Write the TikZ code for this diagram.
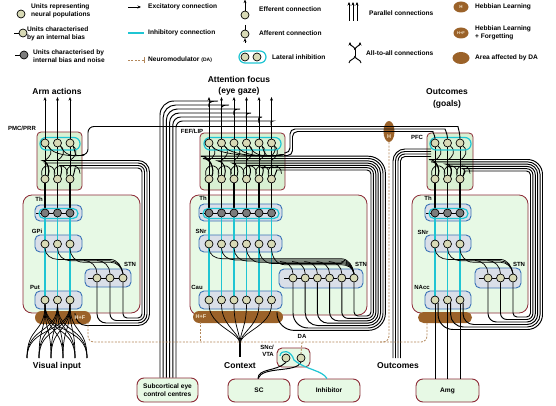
\documentclass[tikz,border=0pt]{standalone}
\usepackage{fontspec}
\setmainfont{Liberation Sans}
\usetikzlibrary{arrows.meta,calc,shapes.geometric,fit}
\definecolor{unitfill}{HTML}{D8DAB6}
\definecolor{ctxfill}{HTML}{D9F1D3}
\definecolor{bgfill}{HTML}{E7F9E5}
\definecolor{boxred}{HTML}{8C2A36}
\definecolor{nucfill}{HTML}{DADFE8}
\definecolor{nucblue}{HTML}{3A72B6}
\definecolor{brownda}{HTML}{9B6229}
\definecolor{inhcyan}{HTML}{1FC5D3}
\definecolor{dashbrown}{HTML}{B3875A}
\definecolor{noisegray}{HTML}{7C7C7C}
\definecolor{cream}{HTML}{F3E6CC}
\pgfdeclarelayer{back}
\pgfdeclarelayer{mid}
\pgfsetlayers{back,mid,main}
\tikzset{
 unit/.style={circle, draw=black, fill=unitfill, line width=0.7pt, minimum size=8pt, inner sep=0pt},
 dunit/.style={unit, fill=noisegray},
 nuc/.style={draw=nucblue, fill=nucfill, line width=0.9pt, rounded corners=5pt, inner sep=0pt},
 ctx/.style={draw=boxred, fill=ctxfill, line width=0.8pt, rounded corners=4pt, inner sep=0pt},
 bgbox/.style={draw=boxred, fill=bgfill, line width=0.8pt, rounded corners=9pt, inner sep=0pt},
 outbox/.style={draw=boxred, fill=bgfill, line width=0.9pt, rounded corners=7pt, inner sep=0pt},
 conn/.style={draw=black, line width=0.95pt},
 fine/.style={draw=black, line width=0.7pt},
 thal/.style={draw=black, line width=1.5pt},
 inh/.style={draw=inhcyan, line width=1.2pt},
 dam/.style={draw=dashbrown, line width=0.8pt, dash pattern=on 2pt off 1.4pt},
 blob/.style={fill=brownda, draw=none, inner sep=0pt},
 lbl/.style={font=\fontsize{6}{7}\selectfont\bfseries, inner sep=0pt},
 big/.style={font=\fontsize{8.5}{11.5}\selectfont\bfseries, inner sep=0pt, align=center},
 leg/.style={font=\fontsize{6.6}{8.4}\selectfont\bfseries, inner sep=0pt, align=left, anchor=west},
 boxtxt/.style={font=\fontsize{6.6}{8.2}\selectfont\bfseries, inner sep=0pt, align=center},
 blobtxt/.style={font=\fontsize{5.5}{6}\selectfont\bfseries, text=cream, inner sep=0pt},
 tip/.style={-{Stealth[length=3.5pt,width=3pt]}},
}
\begin{document}
\begin{tikzpicture}[x=1pt,y=-1pt]
\useasboundingbox (0,0) rectangle (556,406);
\begin{pgfonlayer}{back}
\fill[white] (0,0) rectangle (556,406);
\node[bgbox, fit={(23,195) (140,313)}] (Abg) {};
\node[bgbox, fit={(190,195) (367,315)}] (Bbg) {};
\node[bgbox, fit={(412,195) (528,313)}] (Cbg) {};
\node[ctx, fit={(37,132) (82,190)}] (Actx) {};
\node[ctx, fit={(200,133) (285,190)}] (Bctx) {};
\node[ctx, fit={(427,133) (473,190)}] (Cctx) {};
\node[nuc, fit={(35,205) (82,221)}] (Athb) {};
\node[nuc, fit={(35,235) (82,252)}] (Agpb) {};
\node[nuc, fit={(85,269) (131,287)}] (Astnb) {};
\node[nuc, fit={(35,291) (82,309)}] (Aputb) {};
\node[nuc, fit={(199,204) (282,221)}] (Bthb) {};
\node[nuc, fit={(199,235) (282,252)}] (Bsnb) {};
\node[nuc, fit={(279,269) (363,288)}] (Bstnb) {};
\node[nuc, fit={(199,291) (282,309)}] (Bcaub) {};
\node[nuc, fit={(425,204) (471,221)}] (Cthb) {};
\node[nuc, fit={(425,235) (471,252)}] (Csnb) {};
\node[nuc, fit={(475,268) (521,288)}] (Cstnb) {};
\node[nuc, fit={(425,291) (471,309)}] (Cnab) {};
\node[outbox, fit={(137,378) (198,402)}] (sub) {};
\node[outbox, fit={(228,379) (290,402)}] (SC) {};
\node[outbox, fit={(298,379) (360,402)}] (Inh) {};
\node[outbox, rounded corners=5pt, fit={(277,348) (310,367)}] (SNc) {};
\node[outbox, fit={(416,379) (479,402)}] (Amg) {};
\node[blob, rounded corners=6.5pt, fit={(35,311) (91,324)}] (Ahf) {};
\node[blob, rounded corners=6pt, fit={(193,311) (283,323)}] (Bhf) {};
\node[blob, rounded corners=5.5pt, fit={(418,312) (472,323)}] (Chf) {};
\node[blob, ellipse, minimum width=11pt, minimum height=21pt] (Hb) at (389,131.5) {};
\end{pgfonlayer}

% ===== units =====
\foreach \i/\x in {1/45,2/57.5,3/70} {
  \node[unit] (At\i) at (\x,143) {};
  \node[unit] (Ab\i) at (\x,179) {};
  \node[dunit] (Ah\i) at (\x,213) {};
  \node[unit] (Ag\i) at (\x,244) {};
  \node[unit] (Ap\i) at (\x,300) {};
}
\foreach \i/\x in {1/97,2/110,3/123} \node[unit] (As\i) at (\x,278) {};
\foreach \i/\x in {1/209,2/221.5,3/234,4/246.5,5/259,6/271.5} {
  \node[unit] (Bt\i) at (\x,143) {};
  \node[unit] (Bb\i) at (\x,179) {};
  \node[dunit] (Bh\i) at (\x,213) {};
  \node[unit] (Bg\i) at (\x,244) {};
  \node[unit] (Bp\i) at (\x,300) {};
}
\foreach \i/\x in {1/293,2/305.2,3/317.4,4/329.6,5/341.8,6/354} \node[unit] (Bs\i) at (\x,278) {};
\foreach \i/\x in {1/435,2/447.5,3/460} {
  \node[unit] (Ct\i) at (\x,143) {};
  \node[unit] (Cb\i) at (\x,179) {};
  \node[dunit] (Ch\i) at (\x,213) {};
  \node[unit] (Cg\i) at (\x,244) {};
  \node[unit] (Cp\i) at (\x,300) {};
}
\foreach \i/\x in {1/488,2/500.5,3/513} \node[unit] (Cs\i) at (\x,278) {};
\node[unit] (S1) at (286,358) {};
\node[unit] (S2) at (301,358) {};

\coordinate (Ain) at (84,155);
\coordinate (Bin) at (284,154.5);
\coordinate (Apin) at (75,313);
\coordinate (Bpin) at (277,312);
\coordinate (ctxj) at (240,344);
\coordinate (ctxe) at (240,357);

\begin{pgfonlayer}{mid}
% generic column wiring
\foreach \col/\nn in {A/3,B/6,C/3} {
  \foreach \i in {1,...,\nn} {
    \draw[conn] (\col b\i.north) -- (\col t\i.south);
    \draw[thal] (\col h\i.north) -- (\col b\i.south);
    \draw[inh] (\col h\i.south) -- (\col p\i.north);
    \draw[fine] (\col h\i.west) -- ++(-4.5,0);
    \draw[fine] (\col s\i.west) -- ++(-4.5,0);
    \draw[fine] (\col b\i.north west) .. controls +(-3,-13) and +(0,-11) .. ($(\col b\i.north)+(10,-1)$);
    \draw[fine] (\col t\i.south east) .. controls +(6,5) and +(5,-3) .. ($(\col t\i.south)+(0,13)$);
  }
}
% GPi/SNr <-> STN all-to-all drawn as a bus
\foreach \i/\x in {1/45,2/57.5,3/70} {
  \pgfmathsetmacro\yy{258+1.4*\i}
  \draw[fine] (Ag\i.south) to[out=-90,in=180] (\x+13,\yy) -- (110,\yy) to[out=0,in=100] (As3.north);
}
\foreach \j/\x in {1/97,2/110} \draw[fine] (\x-13,260.5) to[out=0,in=90] (As\j.north);
\foreach \i/\x in {1/209,2/221.5,3/234,4/246.5,5/259,6/271.5} {
  \pgfmathsetmacro\yy{257.5+1.2*\i}
  \draw[fine] (Bg\i.south) to[out=-90,in=180] (\x+13,\yy) -- (341,\yy) to[out=0,in=100] (Bs6.north);
}
\foreach \j/\x in {1/293,2/305.2,3/317.4,4/329.6,5/341.8} \draw[fine] (\x-13,261.5) to[out=0,in=90] (Bs\j.north);
\foreach \i/\x in {1/435,2/447.5,3/460} {
  \pgfmathsetmacro\yy{258+1.4*\i}
  \draw[fine] (Cg\i.south) to[out=-90,in=180] (\x+13,\yy) -- (500,\yy) to[out=0,in=100] (Cs3.north);
}
\foreach \j/\x in {1/488,2/500.5} \draw[fine] (\x-13,260.5) to[out=0,in=90] (Cs\j.north);
% lateral inhibition loops
\draw[inh, rounded corners=6pt] (40,137.5) rectangle (80,150);
\draw[inh, rounded corners=6pt] (204,137.5) rectangle (281,150);
\draw[inh, rounded corners=6pt] (430,137.5) rectangle (471,150);
\draw[inh, rounded corners=5pt] (39,208.5) rectangle (78,218.5);
\draw[inh, rounded corners=5pt] (203,208.5) rectangle (279,218.5);
\draw[inh, rounded corners=5pt] (429,208.5) rectangle (468,218.5);
% outputs up
\foreach \i in {1,2,3} \draw[conn,tip] (At\i.north) -- ++(0,-41.5);
\foreach \i in {1,...,6} \draw[conn,tip] (Bt\i.north) -- ++(0,-41.5);
% FEF -> subcortical bundle
\foreach \i/\x in {1/209,2/221.5,3/234,4/246.5,5/259,6/271.5} {
  \pgfmathsetmacro\yb{101+4*(\i-1)}
  \pgfmathsetmacro\xv{160+3.2*(\i-1)}
  \pgfmathsetmacro\R{14-1.5*(\i-1)}
  \draw[conn, rounded corners=\R pt] (\x,\yb+6) to[out=90,in=0] (\x-5,\yb) -- (\xv,\yb) -- (\xv,0 |- sub.north);
}
% bundle A: cortex -> STN / Put
\foreach \k/\s/\sx/\e in {0/Ab3/70/As3.south, 1/Ab2/57.5/As2.south, 2/Ab1/45/As1.south, 3/Ab1/45/Apin} {
  \pgfmathsetmacro\yt{168-2.5*\k}
  \pgfmathsetmacro\xv{142+2.5*\k}
  \pgfmathsetmacro\yb{318+2.5*\k}
  \pgfmathsetmacro\R{4+2.5*\k}
  \draw[conn, rounded corners=\R pt] (\s.north east) to[out=70,in=180] (\sx+9,\yt) -- (\xv,\yt) -- (\xv,\yb) -- (\e |- 0,\yb) -- (\e);
}
% bundle B
\foreach \k/\s/\sx/\e in {0/Bb6/271.5/Bs6.south, 1/Bb5/259/Bs5.south, 2/Bb4/246.5/Bs4.south, 3/Bb3/234/Bs3.south, 4/Bb2/221.5/Bs2.south, 5/Bb1/209/Bs1.south, 6/Bb1/209/Bpin} {
  \pgfmathsetmacro\yt{170-2.3*\k}
  \pgfmathsetmacro\xv{371+2.4*\k}
  \pgfmathsetmacro\yb{316+2.4*\k}
  \pgfmathsetmacro\R{4+2.2*\k}
  \draw[conn, rounded corners=\R pt] (\s.north east) to[out=70,in=180] (\sx+9,\yt) -- (\xv,\yt) -- (\xv,\yb) -- (\e |- 0,\yb) -- (\e);
}
% bundle C
\foreach \k/\s/\sx/\e in {0/Cb3/460/Cs3.south, 1/Cb3/460/Cs2.south, 2/Cb2/447.5/Cs1.south, 3/Cb2/447.5/Cp3.south east, 4/Cb1/435/Cp2.south east, 5/Cb1/435/Cp1.south east} {
  \pgfmathsetmacro\yt{171-2.3*\k}
  \pgfmathsetmacro\xv{530.5+2.4*\k}
  \pgfmathsetmacro\yb{317+2.5*\k}
  \pgfmathsetmacro\R{4+2.2*\k}
  \draw[conn, rounded corners=\R pt] (\s.north east) to[out=70,in=180] (\sx+9,\yt) -- (\xv,\yt) -- (\xv,\yb) -- (\e |- 0,\yb) -- (\e);
}
% PFC -> PMC and FEF (Hebbian)
\draw[conn, rounded corners=6pt] (Ct3.north) to[out=90,in=0] (452,126.5) -- (88,126.5) -- (88,155) -- (Ain);
\draw[conn, rounded corners=5pt] (Ct2.north) to[out=90,in=0] (440,129) -- (290,129) -- (290,153) -- (284,153);
\draw[conn, rounded corners=5pt] (Ct1.north) to[out=90,in=0] (428,131.5) -- (292.5,131.5) -- (292.5,155.5) -- (284,155.5);
\foreach \i in {1,2,3} \draw[fine] (Ain) .. controls (72,157) and ($(At\i)+(7,12)$) .. (At\i.south east);
\foreach \i in {1,...,6} \draw[fine] (Bin) .. controls (262,158) and ($(Bt\i)+(7,12)$) .. (Bt\i.south east);
% Outcomes -> PFC
\foreach \k in {0,1,2,3} {
  \pgfmathsetmacro\xv{393+2.5*\k}
  \pgfmathsetmacro\yt{149+2.5*\k}
  \pgfmathsetmacro\R{12-2.5*\k}
  \draw[conn, rounded corners=\R pt] (\xv,358) -- (\xv,\yt) -- (431,\yt);
}
% Put -> visual input fan
\foreach \i/\x in {1/45,2/57.5,3/70}
  \foreach \e in {27,39,51,63,75,87}
    \draw[fine] (Ap\i.south) .. controls (\x,334) and (\e,326) .. (\e,358);
% Cau -> context
\foreach \i in {1,...,6} \draw[fine] (Bp\i.south) .. controls +(0,22) and +(0,-12) .. (ctxj);
\draw[conn, line width=1.6pt] (ctxj) -- (ctxe);
% NAcc -> Amg
\foreach \i in {1,2,3} \draw[conn] (Cp\i.south) -- (Cp\i.south |- Amg.north);
% SNc / VTA
\draw[conn] ($(SC.north)+(-1,0)$) .. controls (258,368) and (276,372) .. (S1.south);
\draw[conn] ($(SC.north)+(-1,0)$) .. controls (262,366) and (296,373) .. (S2.south);
\draw[inh] ($(Inh.north)+(-2,0)$) .. controls (322,370) and (306,370) .. (294,360) .. controls (291,350) and (281,349) .. (280,356);
% dopamine
\draw[dam, rounded corners=6pt] (88,322) -- (88,342) -- (427,342) -- (427,322);
\draw[dam] (200,322) -- (200,342);
\draw[dam, rounded corners=6pt] (Hb.south) -- (389,342) -- (380,342);
\draw[dam] (302,342) -- (S2.north);
\end{pgfonlayer}

% ===== labels =====
\node[big] (armlbl) at (57,91) {Arm actions};
\node[big] (attlbl) at (239,86) {Attention focus\\(eye gaze)};
\node[big] (goallbl) at (447,98.5) {Outcomes\\(goals)};
\node[big] (vislbl) at (57,366) {Visual input};
\node[big] (ctxlbl) at (240,366) {Context};
\node[big] (outlbl) at (398,366) {Outcomes};
\node[lbl] (pmclbl) at (22,128) {PMC/PRR};
\node[lbl] (feflbl) at (192,131) {FEF/LIP};
\node[lbl] (pfclbl) at (417,137) {PFC};
\node[lbl] (Athl) at (39,199) {Th};
\node[lbl] (Bthl) at (203,198.5) {Th};
\node[lbl] (Cthl) at (428,198.5) {Th};
\node[lbl] (Agpl) at (37,231) {GPi};
\node[lbl] (Bsnl) at (201,231) {SNr};
\node[lbl] (Csnl) at (423,232) {SNr};
\node[lbl] (Aputl) at (35,287) {Put};
\node[lbl] (Bcaul) at (197,287) {Cau};
\node[lbl] (Cnal) at (422,287) {NAcc};
\node[lbl] (Astnl) at (130,264.5) {STN};
\node[lbl] (Bstnl) at (361,264.5) {STN};
\node[lbl] (Cstnl) at (519,264) {STN};
\node[blobtxt] (Ahft) at (80,317.5) {H+F};
\node[blobtxt] (Bhft) at (201,317) {H+F};
\node[blobtxt] (Ht) at (389,137) {H};
\node[lbl] (dalbl) at (302,336) {DA};
\node[lbl, align=right, anchor=east] (snclbl) at (274,351) {SNc/\\VTA};
\node[boxtxt] (subt) at (sub) {Subcortical eye\\control centres};
\node[boxtxt] (SCt) at (SC) {SC};
\node[boxtxt] (Inht) at (Inh) {Inhibitor};
\node[boxtxt] (Amgt) at (Amg) {Amg};

% ===== legend =====
\node[unit] (lg1) at (21,14) {};
\node[leg] (lg1t) at (31,10.8) {Units representing\\neural populations};
\node[unit] (lg2) at (23,33) {};
\draw[fine] (lg2.west) -- ++(-5,0);
\node[leg] (lg2t) at (27,33.5) {Units characterised\\by an internal bias};
\node[dunit] (lg3) at (24,55) {};
\draw[fine] (lg3.west) -- ++(-5,0);
\node[leg] (lg3t) at (33,56) {Units characterised by\\internal bias and noise};
\coordinate (le1a) at (128,7); \coordinate (le1b) at (141,7);
\draw[conn,tip] (le1a) -- (le1b);
\node[leg] (lexc) at (148,7) {Excitatory connection};
\coordinate (le2a) at (128,33); \coordinate (le2b) at (144,33);
\draw[inh] (le2a) -- (le2b);
\node[leg] (linh) at (148,33) {Inhibitory connection};
\coordinate (le3a) at (128,60); \coordinate (le3b) at (144.5,60);
\draw[dam] (le3a) -- (le3b);
\draw[dashbrown, line width=0.8pt] (144.5,57) -- (144.5,63);
\node[leg] (lnm) at (148,60) {Neuromodulator {\fontsize{5}{6}\selectfont (DA)}};
\node[unit] (lef) at (245,15) {};
\draw[conn,tip] (lef.north) -- ++(0,-11);
\node[leg] (left) at (259,9) {Efferent connection};
\node[unit] (laf) at (245,34) {};
\draw[conn] (245,25) -- (laf.north);
\draw[conn,tip] (245,43) -- (laf.south);
\node[leg] (laft) at (259,33) {Afferent connection};
\node[unit] (lli1) at (245,57) {};
\node[unit] (lli2) at (257,57) {};
\begin{pgfonlayer}{mid}
\draw[inh, rounded corners=6pt] (239,51) rectangle (266,63);
\end{pgfonlayer}
\node[leg] (llit) at (272,57) {Lateral inhibition};
\foreach \x in {349,353,357} \draw[conn,tip] (\x,21) -- (\x,2);
\node[leg] (lpar) at (369,13) {Parallel connections};
\coordinate (lata) at (355,50); \coordinate (latb) at (355,56);
\draw[conn,tip] (lata) to[out=90,in=-90] (350,42);
\draw[conn,tip] (lata) to[out=90,in=-90] (360,42);
\draw[conn] (lata) -- (latb);
\draw[conn] (latb) to[out=-90,in=90] (349,63);
\draw[conn] (latb) to[out=-90,in=90] (361,63);
\node[leg] (latt) at (366,53) {All-to-all connections};
\node[blob, ellipse, minimum width=15pt, minimum height=11pt, text=cream, font=\fontsize{4.5}{5}\selectfont\bfseries] (lgH) at (461,7) {H};
\node[leg] (lgHt) at (475,7) {Hebbian Learning};
\node[blob, ellipse, minimum width=15pt, minimum height=11pt, text=cream, font=\fontsize{4}{5}\selectfont\bfseries] (lgHF) at (461,33) {H+F};
\node[leg] (lgHFt) at (475,33) {Hebbian Learning\\+ Forgetting};
\node[blob, ellipse, minimum width=17pt, minimum height=12pt] (lgDA) at (461,58) {};
\node[leg] (lgDAt) at (475,58) {Area affected by DA};
\end{tikzpicture}
\end{document}
